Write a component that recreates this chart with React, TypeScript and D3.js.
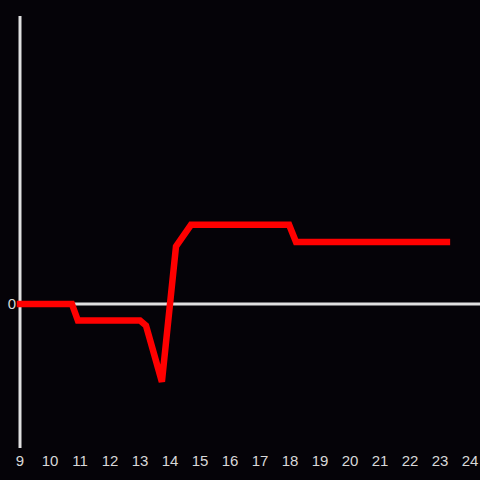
import React from "react";
import * as d3 from "d3";

const hours = [9, 10.73, 10.93, 13.0, 13.2, 13.73, 14.2, 14.7, 17.97, 18.2, 23.23];
const values = [0, 0, -0.115, -0.115, -0.15, -0.54, 0.4, 0.55, 0.55, 0.43, 0.43];
const xTicks = [9, 10, 11, 12, 13, 14, 15, 16, 17, 18, 19, 20, 21, 22, 23, 24];
const yTicks = [0];

export default function App() {
  const W = 480, H = 480;
  const x = d3.scaleLinear().domain([9, 24]).range([20, 470]);
  const y = d3.scaleLinear().domain([-1, 2]).range([448, 16]);
  const data = hours.map((h, i) => [h, values[i]] as [number, number]);
  const line = d3.line<[number, number]>().x(d => x(d[0])).y(d => y(d[1]));
  return (
    <svg width={W} height={H} style={{ position: "absolute", left: 0, top: 0, background: "#050308" }}>
      <rect width={W} height={H} fill="#050308" />
      <line x1={20} x2={20} y1={16} y2={448} stroke="#e0e0e0" strokeWidth={3} />
      <line x1={20} x2={480} y1={y(0)} y2={y(0)} stroke="#e0e0e0" strokeWidth={3} />
      {yTicks.map(t => (
        <text key={t} x={16} y={y(t)} dy="0.35em" textAnchor="end" fill="#d8d8d8"
          fontFamily="Liberation Sans, Arial, sans-serif" fontSize={15}>{t}</text>
      ))}
      {xTicks.map(t => (
        <text key={t} x={x(t)} y={466} textAnchor="middle" fill="#d8d8d8"
          fontFamily="Liberation Sans, Arial, sans-serif" fontSize={15}>{t}</text>
      ))}
      <path d={line(data) || ""} fill="none" stroke="#ff0000" strokeWidth={6.5}
        strokeLinejoin="miter" strokeLinecap="square" />
    </svg>
  );
}
